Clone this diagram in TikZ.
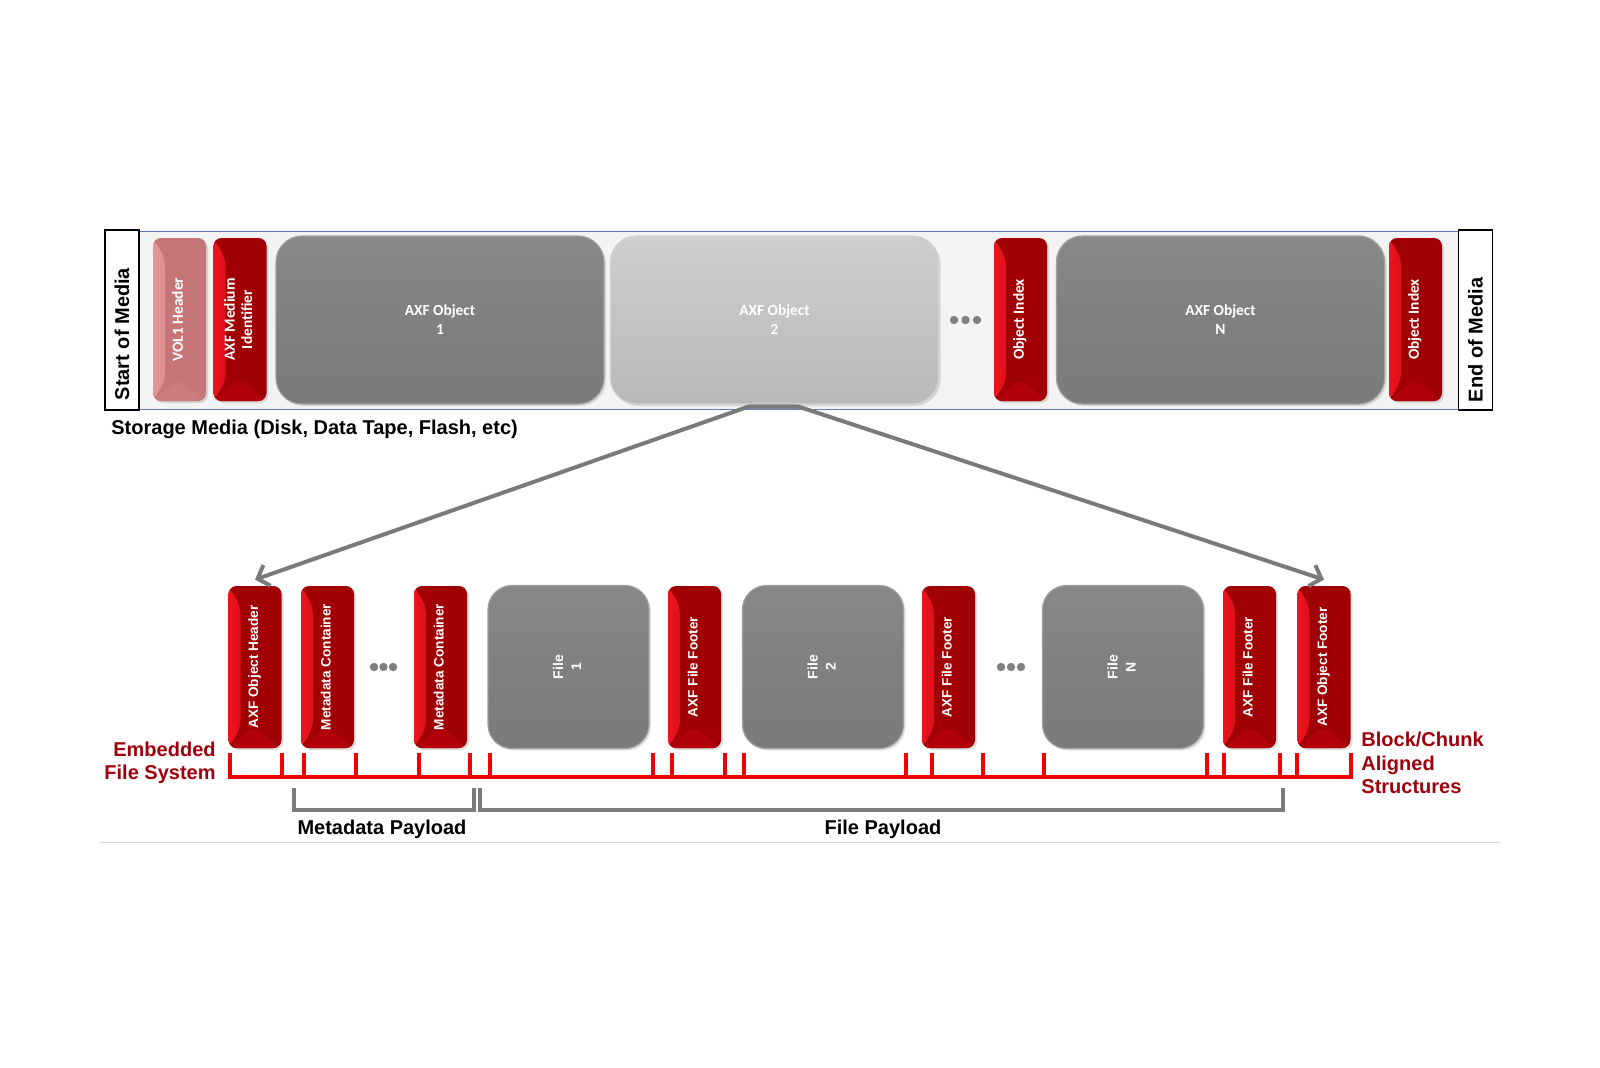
\documentclass[tikz,border=0pt]{standalone}
\usepackage{fontspec}
\setmainfont{Liberation Sans}
\newfontfamily\calfont{Carlito}
\usepackage{graphicx}
\usetikzlibrary{arrows.meta,shadows}

\definecolor{axflight}{RGB}{236,20,32}
\definecolor{axfdark}{RGB}{160,0,4}
\definecolor{axfmid}{RGB}{176,2,8}
\definecolor{volfill}{RGB}{198,118,118}
\definecolor{vollight}{RGB}{228,150,152}
\definecolor{volmid}{RGB}{202,124,124}
\definecolor{objgray}{RGB}{128,128,128}
\definecolor{objlight}{RGB}{190,190,190}
\definecolor{barfill}{RGB}{243,243,243}
\definecolor{barblue}{RGB}{96,122,200}
\definecolor{rulered}{RGB}{240,0,0}
\definecolor{labred}{RGB}{160,0,12}
\definecolor{linegray}{RGB}{122,122,122}

\newcommand{\vlab}[1]{\rotatebox{90}{\begin{tabular}{@{}c@{}}#1\end{tabular}}}

\begin{document}
\begin{tikzpicture}[x=0.5pt, y=-0.5pt, every node/.style={inner sep=0pt},
  endbox/.style={draw=black, fill=white, line width=0.6pt, minimum width=17pt, minimum height=90pt},
  endlab/.style={rotate=90, font=\fontsize{10}{12}\selectfont\bfseries},
  mediabar/.style={draw=barblue, fill=barfill, line width=0.5pt, minimum width=693.5pt, minimum height=89pt},
  bevel/.style n args={3}{fill=#3, path picture={
      \shade[left color=#1, right color=#2] (path picture bounding box.north west) -- ([xshift=6pt,yshift=-10pt]path picture bounding box.north west) -- ([xshift=6pt,yshift=10pt]path picture bounding box.south west) -- (path picture bounding box.south west) -- cycle;
      \fill[#2] (path picture bounding box.south west) -- ([xshift=13pt,yshift=11pt]path picture bounding box.south west) -- (path picture bounding box.south east) -- cycle;}},
  redbox/.style={rounded corners=4pt, minimum width=26.5pt, minimum height=81pt, text=white, bevel={axflight}{axfmid}{axfdark}, drop shadow={opacity=0.25, shadow xshift=1pt, shadow yshift=-1pt}},
  topred/.style={redbox, minimum height=81.5pt, font=\calfont\fontsize{7.7}{8.6}\selectfont\bfseries},
  lowred/.style={redbox, font=\fontsize{6.8}{8}\selectfont\bfseries},
  grayobj/.style={rounded corners=13pt, minimum width=164pt, minimum height=84pt, top color=objgray!94!white, bottom color=objgray!96!black, middle color=objgray, draw=objgray!75!white, line width=0.6pt, text=white, font=\calfont\fontsize{7.7}{9.5}\selectfont\bfseries, align=center, drop shadow={opacity=0.25, shadow xshift=1pt, shadow yshift=-1pt}},
  filebox/.style={grayobj, rounded corners=12pt, minimum width=80.5pt, minimum height=81.5pt, font=\fontsize{7}{9}\selectfont\bfseries},
  axfarrow/.style={draw=linegray, line width=2pt, line join=round, -{Straight Barb[length=5pt,width=11pt]}},
  ruler/.style={draw=rulered, line width=1.8pt},
  brace/.style={draw=linegray, line width=1.8pt},
  blacklab/.style={font=\fontsize{10}{12}\selectfont\bfseries},
  redlab/.style={text=labred, font=\fontsize{10}{11.75}\selectfont\bfseries}]
\useasboundingbox (0,0) rectangle (1600,1067);

% storage media
\node[mediabar] (bar) at (798.5,320) {};
\node[endbox] (som) at (122,320) {};
\node[endbox] (eom) at (1475.5,320) {};
\node[endlab] (somlab) at ([yshift=-7pt]som.center) {Start of Media};
\node[endlab] (eomlab) at ([yshift=-10pt]eom.center) {End of Media};
\node[topred, bevel={vollight}{volmid}{volfill}] (vol) at (179.5,319.5) {\vlab{VOL1 Header}};
\node[topred] (ami) at (240,319.5) {\vlab{AXF Medium\\Identifier}};
\node[grayobj] (obj1) at (440,320) {AXF Object\\1};
\node[grayobj, top color=objlight!75!white, middle color=objlight, bottom color=objlight!97!black, draw=objlight!70!white] (obj2) at (774.5,320) {AXF Object\\2};
\node[topred] (oi1) at (1020.5,319.5) {\vlab{Object Index}};
\node[grayobj] (objN) at (1220.5,320) {AXF Object\\N};
\node[topred] (oi2) at (1415.5,319.5) {\vlab{Object Index}};
\foreach \x in {954,965.5,977} \fill[objgray] (\x,320) circle (2.1pt);
\node[blacklab, anchor=west] (media) at (111,429) {Storage Media (Disk, Data Tape, Flash, etc)};

% inside one object
\node[lowred] (hdr) at (255,667) {\vlab{AXF Object Header}};
\node[lowred] (mc1) at (327.5,667) {\vlab{Metadata Container}};
\node[lowred] (mc2) at (440.5,667) {\vlab{Metadata Container}};
\node[filebox] (f1) at (568.5,667) {\vlab{File\\1}};
\node[lowred] (ff1) at (694.5,667) {\vlab{AXF File Footer}};
\node[filebox] (f2) at (823,667) {\vlab{File\\2}};
\node[lowred] (ff2) at (948.5,667) {\vlab{AXF File Footer}};
\node[filebox] (fN) at (1123,667) {\vlab{File\\N}};
\node[lowred] (ff3) at (1249.5,667) {\vlab{AXF File Footer}};
\node[lowred] (ofoot) at (1324,667) {\vlab{AXF Object Footer}};
\foreach \x in {374,383.5,393,1001,1011,1021} \fill[objgray] (\x,667) circle (2.1pt);

\draw[axfarrow] ([xshift=12pt,yshift=-1pt]obj2.south) -- ([xshift=-13pt,yshift=-1pt]obj2.south) -- ([yshift=3pt]hdr.north);
\draw[axfarrow] ([xshift=-13pt,yshift=-1pt]obj2.south) -- ([xshift=12pt,yshift=-1pt]obj2.south) -- ([yshift=3pt]ofoot.north);

% block alignment
\draw[ruler] (230,753) -- (230,777) -- (1351,777) -- (1351,753);
\foreach \x in {282,304,356,419,470,490,653,672,725,744,906,932,983,1044,1207,1224,1280,1297}
  \draw[ruler] (\x,753) -- (\x,777);
\node[redlab, anchor=east, align=right] (efs) at (216,763) {Embedded\\File System};
\node[redlab, anchor=west, align=left] (bca) at (1361,763) {Block/Chunk\\Aligned\\Structures};

\draw[brace] (294,788) |- (474,810) -- (474,788);
\draw[brace] (480,788) |- (1283,810) -- (1283,788);
\node[blacklab] (mdp) at (382,829) {Metadata Payload};
\node[blacklab] (fp) at (883,829) {File Payload};
\draw[gray!30, line width=0.5pt] (100,842) -- (1500,842);
\end{tikzpicture}
\end{document}
